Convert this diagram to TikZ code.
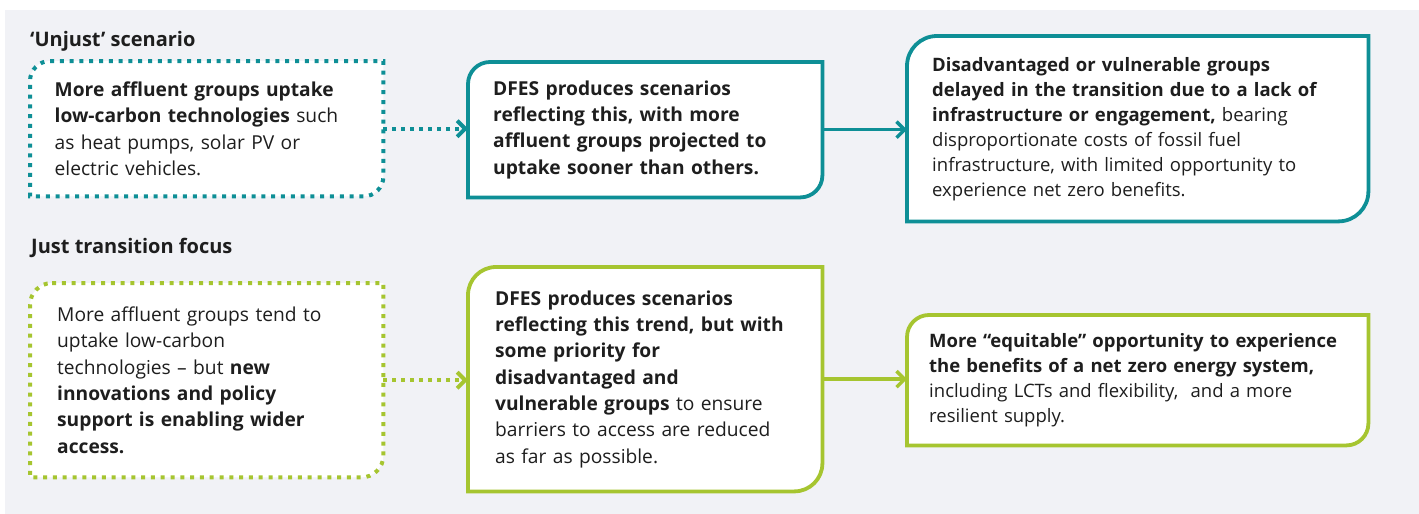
\documentclass[tikz,border=0pt]{standalone}
\usepackage{fontspec}
\setmainfont{Open Sans}
\usetikzlibrary{arrows.meta}
\definecolor{tealc}{HTML}{0E8F96}
\definecolor{greenc}{HTML}{A6C530}
\definecolor{bgc}{HTML}{F1F2F6}
\definecolor{txtc}{HTML}{1E1E1E}
\pgfdeclarelayer{bglayer}
\pgfdeclarelayer{filllayer}
\pgfsetlayers{bglayer,filllayer,main}
\newcommand\cutbox[3]{%
  \draw[#1] ([xshift=#3]#2.north west) -- (#2.north east) -- ([yshift=#3]#2.south east)
    arc[start angle=0,end angle=-90,radius=#3] -- (#2.south west) -- ([yshift=-#3]#2.north west)
    arc[start angle=180,end angle=90,radius=#3] -- cycle;}
\tikzset{
  box/.style={anchor=north west, inner xsep=25pt, inner ysep=0pt, align=left,
    text=txtc, font=\fontsize{19.2}{26.3}\selectfont},
  smallbox/.style={box, font=\fontsize{18.5}{25}\selectfont},
  heading/.style={anchor=base west, inner sep=0pt, text=txtc, font=\bfseries\fontsize{20}{22}\selectfont},
  tealsolid/.style={draw=tealc, line width=3.8pt, fill=white},
  tealdots/.style={draw=tealc, line width=4pt, fill=white, dash pattern=on 4pt off 5.8pt},
  greensolid/.style={draw=greenc, line width=3.8pt, fill=white},
  greendots/.style={draw=greenc, line width=4pt, fill=white, dash pattern=on 4pt off 5.8pt},
  tip/.style={-{Straight Barb[length=8pt,width=16pt]}},
  tealarrow/.style={tip, draw=tealc, line width=3.5pt},
  greenarrow/.style={tip, draw=greenc, line width=3.5pt},
  tealdotarrow/.style={tealarrow, line width=4pt, dash pattern=on 4pt off 5pt},
  greendotarrow/.style={greenarrow, line width=4pt, dash pattern=on 4pt off 5pt},
}
\begin{document}
\begin{tikzpicture}[x=1pt,y=-1pt]
\useasboundingbox (0,0) rectangle (1419,514);
\begin{pgfonlayer}{bglayer}
\fill[bgc] (5,10) rectangle (1419,514);
\end{pgfonlayer}

\node[heading] (h1) at (30,46) {‘Unjust’ scenario};
\node[heading] (h2) at (31,253) {Just transition focus};

\node[box, minimum width=353pt, minimum height=135pt, text width=310pt, inner xsep=21.5pt] (b1) at (30,61)
 {\hspace*{3pt}\textbf{More affluent groups uptake}\\
  \hspace*{3pt}\textbf{low-carbon technologies} such\\
  \hspace*{3pt}as heat pumps, solar PV or\\
  \hspace*{3pt}electric vehicles.};
\node[box, minimum width=354pt, minimum height=135pt, text width=304pt] (b2) at (468,62)
 {\textbf{DFES produces scenarios}\\
  \textbf{reflecting this, with more}\\
  \textbf{affluent groups projected to}\\
  \textbf{uptake sooner than others.}};
\node[smallbox, minimum width=461pt, minimum height=185pt, text width=411pt] (b3) at (907,36)
 {\textbf{Disadvantaged or vulnerable groups}\\
  \textbf{delayed in the transition due to a lack of}\\
  \textbf{infrastructure or engagement,} bearing\\
  disproportionate costs of fossil fuel\\
  infrastructure, with limited opportunity to\\
  experience net zero benefits.};

\node[box, minimum width=353pt, minimum height=194pt, text width=299pt, inner xsep=27pt] (b4) at (30,283)
 {More affluent groups tend to\\
  uptake low-carbon\\
  technologies – but \textbf{new}\\
  \textbf{innovations and policy}\\
  \textbf{support is enabling wider}\\
  \textbf{access.}};
\node[box, minimum width=354pt, minimum height=224pt, text width=310pt, inner xsep=22pt] (b5) at (468,267)
 {\hspace*{5pt}\textbf{DFES produces scenarios}\\
  \hspace*{5pt}\textbf{reflecting this trend, but with}\\
  \hspace*{5pt}\textbf{some priority for}\\
  \hspace*{5pt}\textbf{disadvantaged and}\\
  \hspace*{5pt}\textbf{vulnerable groups} to ensure\\
  \hspace*{5pt}barriers to access are reduced\\
  \hspace*{5pt}as far as possible.};
\node[smallbox, minimum width=461pt, minimum height=130pt, text width=429pt, inner xsep=16pt] (b6) at (907,315)
 {\hspace*{6pt}\textbf{More “equitable” opportunity to experience}\\
  \hspace*{6pt}\textbf{the benefits of a net zero energy system,}\\
  \hspace*{6pt}including LCTs and flexibility,~ and a more\\
  \hspace*{6pt}resilient supply.};

\begin{pgfonlayer}{filllayer}
\cutbox{tealdots}{b1}{20pt}
\cutbox{tealsolid}{b2}{22pt}
\cutbox{tealsolid}{b3}{30pt}
\cutbox{greendots}{b4}{22pt}
\cutbox{greensolid}{b5}{28pt}
\cutbox{greensolid}{b6}{22pt}
\end{pgfonlayer}

\draw[tealdotarrow] (b1.east) -- (b1.east -| b2.west);
\draw[tealarrow] (b2.east) -- (b2.east -| b3.west);
\draw[greendotarrow] (b4.east) -- (b4.east -| b5.west);
\draw[greenarrow] (b5.east) -- (b5.east -| b6.west);
\end{tikzpicture}
\end{document}
